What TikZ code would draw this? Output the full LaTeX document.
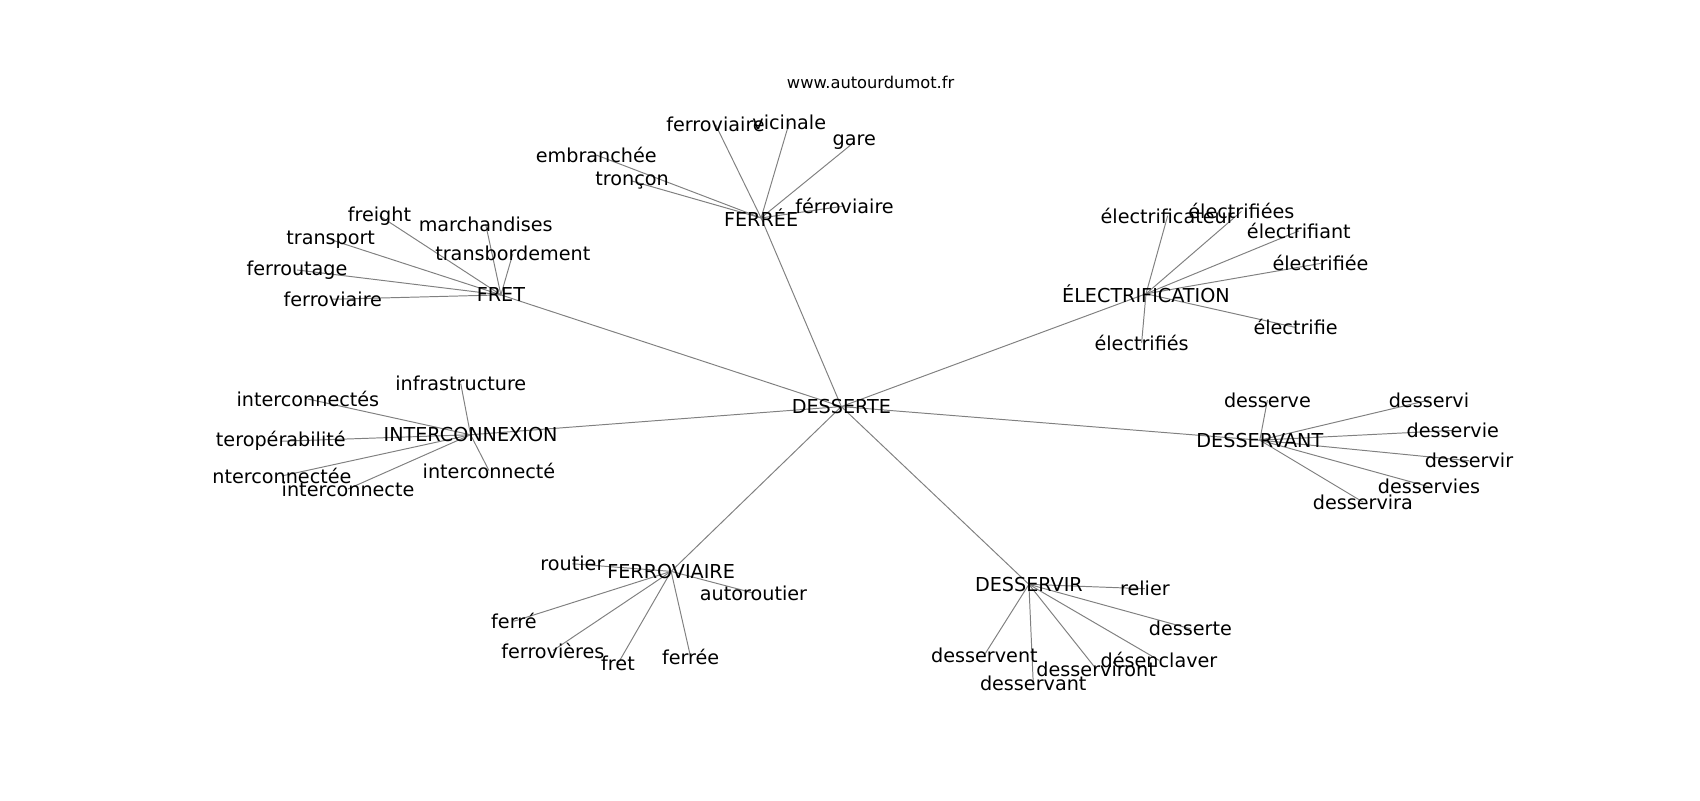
\documentclass[tikz,border=0pt]{standalone}
\usepackage{fontspec}
\setmainfont{DejaVu Sans}
\usetikzlibrary{backgrounds}
\begin{document}
\begin{tikzpicture}[x=1pt,y=-1pt,
  lbl/.style={inner sep=0pt, font=\fontsize{17.7}{20}\selectfont},
  ttl/.style={inner sep=0pt, font=\fontsize{15}{18}\selectfont},
  edge/.style={draw=black!50, line width=0.9pt}]
\useasboundingbox (0,0) rectangle (1568,738);
\node[ttl] (title) at (803,76) {www.autourdumot.fr};
% hubs
\node[lbl] (desserte) at (776,375) {DESSERTE};
\node[lbl] (ferree) at (702,201) {FERRÉE};
\node[lbl] (fret) at (462,272) {FRET};
\node[lbl] (elec) at (1057,271) {ÉLECTRIFICATION};
\node[lbl] (inter) at (434,401) {INTERCONNEXION};
\node[lbl] (dvant) at (1162,406) {DESSERVANT};
\node[lbl] (ferrov) at (619,527) {FERROVIAIRE};
\node[lbl] (dvir) at (949,539) {DESSERVIR};
% FERREE children
\node[lbl] (fe1) at (660,115) {ferroviaire};
\node[lbl] (fe2) at (728,113) {vicinale};
\node[lbl] (fe3) at (788,131) {gare};
\node[lbl] (fe4) at (550,143) {embranchée};
\node[lbl] (fe5) at (583,167) {tronçon};
\node[lbl] (fe6) at (779,190) {férroviaire};
% FRET children
\node[lbl] (fr1) at (350,199) {freight};
\node[lbl] (fr2) at (305,221) {transport};
\node[lbl] (fr3) at (274,249) {ferroutage};
\node[lbl] (fr4) at (307,276) {ferroviaire};
\node[lbl] (fr5) at (448,207) {marchandises};
\node[lbl] (fr6) at (473,234) {transbordement};
% ELECTRIFICATION children
\node[lbl] (el1) at (1077,199) {électrificateur};
\node[lbl] (el2) at (1145,195) {électrifiées};
\node[lbl] (el3) at (1198,213) {électrifiant};
\node[lbl] (el4) at (1218,243) {électrifiée};
\node[lbl] (el5) at (1195,302) {électrifie};
\node[lbl] (el6) at (1053,316) {électrifiés};
% INTERCONNEXION children
\node[lbl] (in1) at (425,354) {infrastructure};
\node[lbl] (in2) at (284,368) {interconnectés};
\node[lbl] (in3) at (259,407) {teropérabilité};
\node[lbl] (in4) at (260,439) {nterconnectée};
\node[lbl] (in5) at (321,451) {interconnecte};
\node[lbl] (in6) at (451,434) {interconnecté};
% DESSERVANT children
\node[lbl] (dv1) at (1169,369) {desserve};
\node[lbl] (dv2) at (1318,369) {desservi};
\node[lbl] (dv3) at (1340,397) {desservie};
\node[lbl] (dv4) at (1355,425) {desservir};
\node[lbl] (dv5) at (1318,449) {desservies};
\node[lbl] (dv6) at (1257,463) {desservira};
% FERROVIAIRE children
\node[lbl] (fo1) at (528,520) {routier};
\node[lbl] (fo2) at (695,547) {autoroutier};
\node[lbl] (fo3) at (474,573) {ferré};
\node[lbl] (fo4) at (510,600) {ferrovières};
\node[lbl] (fo5) at (570,612) {fret};
\node[lbl] (fo6) at (637,606) {ferrée};
% DESSERVIR children
\node[lbl] (di1) at (1056,543) {relier};
\node[lbl] (di2) at (1098,580) {desserte};
\node[lbl] (di3) at (908,604) {desservent};
\node[lbl] (di4) at (953,630) {desservant};
\node[lbl] (di5) at (1011,617) {desserviront};
\node[lbl] (di6) at (1069,609) {désenclaver};
\begin{scope}[on background layer]
\foreach \h in {ferree,fret,elec,inter,dvant,ferrov,dvir}
  \draw[edge] (desserte.center) -- (\h.center);
\foreach \c in {fe1,fe2,fe3,fe4,fe5,fe6}
  \draw[edge] (ferree.center) -- (\c.center);
\foreach \c in {fr1,fr2,fr3,fr4,fr5,fr6}
  \draw[edge] (fret.center) -- (\c.center);
\foreach \c in {el1,el2,el3,el4,el5,el6}
  \draw[edge] (elec.center) -- (\c.center);
\foreach \c in {in1,in2,in3,in4,in5,in6}
  \draw[edge] (inter.center) -- (\c.center);
\foreach \c in {dv1,dv2,dv3,dv4,dv5,dv6}
  \draw[edge] (dvant.center) -- (\c.center);
\foreach \c in {fo1,fo2,fo3,fo4,fo5,fo6}
  \draw[edge] (ferrov.center) -- (\c.center);
\foreach \c in {di1,di2,di3,di4,di5,di6}
  \draw[edge] (dvir.center) -- (\c.center);
\end{scope}
\end{tikzpicture}
\end{document}
